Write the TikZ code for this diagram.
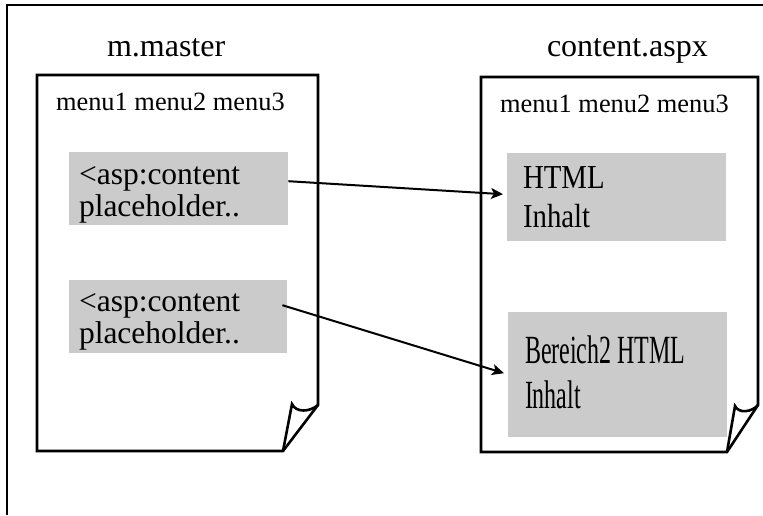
\documentclass[tikz,border=0pt]{standalone}
\usepackage{fontspec}
\setmainfont{Liberation Serif}
\newfontfamily\condA[FakeStretch=0.86]{Liberation Serif}
\newfontfamily\condB[FakeStretch=0.6]{Liberation Serif}
\usetikzlibrary{arrows.meta,calc}
\definecolor{boxgray}{RGB}{203,203,203}
\tikzset{
  gbox/.style={draw=none, fill=boxgray, rectangle, inner sep=0pt, anchor=north west},
  txt/.style={anchor=base west, inner sep=0pt, outer sep=0pt},
  title/.style={txt, font=\fontsize{32}{38}\selectfont},
  menu/.style={txt, font=\fontsize{26.4}{30}\selectfont},
  ltext/.style={txt, font=\fontsize{31.5}{38}\selectfont},
  rtextA/.style={txt, font=\condA\fontsize{33.5}{40}\selectfont},
  rtextB/.style={txt, font=\condB\fontsize{40}{46}\selectfont},
  page/.style={line width=2.6pt, line join=miter},
  frame/.style={line width=1.3pt},
  arr/.style={line width=2pt, -{Stealth[length=12pt,width=11pt,inset=3pt]}}
}
\begin{document}
\begin{tikzpicture}[x=1pt,y=-1pt]
\useasboundingbox (0,0) rectangle (763,515);
% outer frame (partially visible)
\draw[frame] (7,515) -- (7,5) -- (763,5);
% titles
\node[title] (tm) at (107,56) {m.master};
\node[title] (tc) at (547,56) {content.aspx};
% left page
\draw[page] (37,75) -- (318,75) -- (318,405) -- (283,451) -- (37,451) -- cycle;
\draw[page] (283,451) -- (292,404) .. controls (296,413) and (310,412) .. (318,405);
% right page
\draw[page] (481,77) -- (758,77) -- (758,405) -- (727,452) -- (481,452) -- cycle;
\draw[page] (727,452) -- (735,406) .. controls (739,414) and (752,412) .. (758,405);
% menus
\node[menu] (m1) at (56,110) {menu1 menu2 menu3};
\node[menu] (m2) at (500,112) {menu1 menu2 menu3};
% gray boxes
\node[gbox, minimum width=219pt, minimum height=73pt] (lb1) at (69,152) {};
\node[gbox, minimum width=218pt, minimum height=73pt] (lb2) at (69,280) {};
\node[gbox, minimum width=219pt, minimum height=88pt] (rb1) at (507,153) {};
\node[gbox, minimum width=219pt, minimum height=125pt] (rb2) at (508,312) {};
% box texts
\node[ltext] (l1a) at (79,184) {<asp:content};
\node[ltext] (l1b) at (79,216) {placeholder..};
\node[ltext] (l2a) at (79,311) {<asp:content};
\node[ltext] (l2b) at (79,343) {placeholder..};
\node[rtextA] (r1a) at (523,188) {HTML};
\node[rtextA] (r1b) at (523,227) {Inhalt};
\node[rtextB] (r2a) at (525,363) {Bereich2 HTML};
\node[rtextB] (r2b) at (525,408) {Inhalt};
% arrows
\draw[arr] ([yshift=7.5pt]lb1.east) -- ([xshift=-4pt,yshift=3pt]rb1.west);
\draw[arr] ([xshift=-5pt,yshift=11.5pt]lb2.east) -- ([xshift=-4pt,yshift=1.5pt]rb2.west);
\end{tikzpicture}
\end{document}
